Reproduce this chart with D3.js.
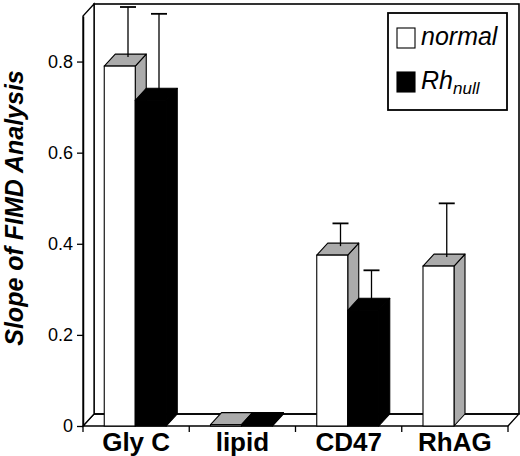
<!DOCTYPE html>
<html>
<head>
<meta charset="utf-8">
<script src="https://cdn.jsdelivr.net/npm/d3@7"></script>
<style>
  body { margin: 0; background: #fff; }
  svg { display: block; }
  text { font-family: "Liberation Sans", Arial, Helvetica, sans-serif; fill: #000; }
</style>
</head>
<body>
<div id="chart"></div>
<script>
// data
const categories = ["Gly C", "lipid", "CD47", "RhAG"];
const series = ["normal", "Rhnull"];
const normalValues = [0.79, 0.003, 0.375, 0.351];
const normalErrors = [0.11, 0, 0.05, 0.118];
const rhnullValues = [0.715, 0.003, 0.254, null];   // no Rh-null bar for RhAG
const rhnullErrors = [0.17, 0, 0.068, null];
const yTicks = [0, 0.2, 0.4, 0.6, 0.8];

let width = 520,
  height = 456;

// front plane of the pseudo-3D box
let x0 = 83, x1 = 508, yBase = 426, yTopPx = 16;
// offset to the back plane
let dx = 11, dy = -12;

let svg = d3.select('#chart')
  .append('svg')
  .attr('width', width)
  .attr('height', height)
  .attr('viewBox', [0, 0, width, height].join(' '));

let yScale = d3.scaleLinear()
  .domain([0, 0.9])
  .range([yBase, yTopPx]);

let xScale = d3.scaleBand()
  .domain(categories)
  .range([x0, x1]);

let bw = xScale.bandwidth();

let xSub = d3.scaleBand()
  .domain(series)
  .range([bw * 0.2, bw * 0.2 + 62]);

let color = d3.scaleOrdinal()
  .domain(series)
  .range(['#fff', '#000']);
let shade = d3.scaleOrdinal()
  .domain(series)
  .range(['#ababab', '#000']);

const pts = arr => arr.map(p => p.join(',')).join(' ');

// floor
svg.append('polygon')
  .attr('points', pts([[x0, yBase], [x1, yBase], [x1 + dx, yBase + dy], [x0 + dx, yBase + dy]]))
  .attr('fill', '#fff')
  .attr('stroke', '#000')
  .attr('stroke-width', 1.3);

// back wall
svg.append('rect')
  .attr('x', x0 + dx)
  .attr('y', yScale(0.9) + dy)
  .attr('width', x1 - x0)
  .attr('height', yScale(0) - yScale(0.9))
  .attr('fill', 'none')
  .attr('stroke', '#000')
  .attr('stroke-width', 1.6);

// left wall
svg.append('polygon')
  .attr('points', pts([[x0, yBase], [x0, yScale(0.9)], [x0 + dx, yScale(0.9) + dy], [x0 + dx, yBase + dy]]))
  .attr('fill', '#fff')
  .attr('stroke', '#000')
  .attr('stroke-width', 1.3);

// y axis
let yAxis = svg.append('g')
  .attr('transform', 'translate(' + x0 + ',0)')
  .call(d3.axisLeft(yScale)
    .tickValues(yTicks)
    .tickSize(6)
    .tickSizeOuter(0)
    .tickPadding(4)
    .tickFormat(d => d === 0 ? '0' : d3.format('.1f')(d)));
yAxis.select('.domain').attr('stroke-width', 1.5);
yAxis.selectAll('line').attr('stroke-width', 1.3);
yAxis.selectAll('text')
  .style('font-size', '18px')
  .style('font-family', '"Liberation Sans", Arial, sans-serif');

// x axis: ticks at band edges, labels centred
let edges = categories.map(c => xScale(c)).concat([x1]);
svg.append('g')
  .selectAll('line')
  .data(edges)
  .join('line')
  .attr('x1', d => d).attr('x2', d => d)
  .attr('y1', yBase).attr('y2', yBase + 6)
  .attr('stroke', '#000')
  .attr('stroke-width', 1.3);

svg.append('g')
  .selectAll('text')
  .data(categories)
  .join('text')
  .attr('x', d => xScale(d) + bw / 2)
  .attr('y', 451)
  .attr('text-anchor', 'middle')
  .style('font-size', '26px')
  .style('font-weight', 'bold')
  .text(d => d);

// bar rows
let rows = [];
categories.forEach(function(c, i) {
  rows.push({cat: c, key: 'normal', value: normalValues[i], err: normalErrors[i]});
  if (rhnullValues[i] !== null) {
    rows.push({cat: c, key: 'Rhnull', value: rhnullValues[i], err: rhnullErrors[i]});
  }
});

let barW = xSub.bandwidth();

let bars = svg.append('g')
  .selectAll('g')
  .data(rows)
  .join('g');

// side face
bars.append('polygon')
  .attr('points', function(d) {
    let xf = xScale(d.cat) + xSub(d.key) + barW, yf = yScale(d.value);
    return pts([[xf, yBase], [xf + dx, yBase + dy], [xf + dx, yf + dy], [xf, yf]]);
  })
  .attr('fill', d => shade(d.key))
  .attr('stroke', '#000')
  .attr('stroke-width', 1.1)
  .attr('stroke-linejoin', 'round');

// top face
bars.append('polygon')
  .attr('points', function(d) {
    let xf = xScale(d.cat) + xSub(d.key), yf = yScale(d.value);
    return pts([[xf, yf], [xf + dx, yf + dy], [xf + barW + dx, yf + dy], [xf + barW, yf]]);
  })
  .attr('fill', d => shade(d.key))
  .attr('stroke', '#000')
  .attr('stroke-width', 1.1)
  .attr('stroke-linejoin', 'round');

// front face
bars.append('rect')
  .attr('x', d => xScale(d.cat) + xSub(d.key))
  .attr('y', d => yScale(d.value))
  .attr('width', barW)
  .attr('height', d => yBase - yScale(d.value))
  .attr('fill', d => color(d.key))
  .attr('stroke', '#000')
  .attr('stroke-width', 1.1);

// error bars, rising from the top face
let errRows = bars.filter(d => d.err > 0);
errRows.append('line')
  .attr('x1', d => xScale(d.cat) + xSub(d.key) + barW / 2 + 0.75 * dx)
  .attr('x2', d => xScale(d.cat) + xSub(d.key) + barW / 2 + 0.75 * dx)
  .attr('y1', d => yScale(d.value) + 0.75 * dy)
  .attr('y2', d => yScale(d.value + d.err) + 0.75 * dy)
  .attr('stroke', '#000')
  .attr('stroke-width', 1.3);
errRows.append('line')
  .attr('x1', d => xScale(d.cat) + xSub(d.key) + barW / 2 + 0.75 * dx - 8)
  .attr('x2', d => xScale(d.cat) + xSub(d.key) + barW / 2 + 0.75 * dx + 8)
  .attr('y1', d => yScale(d.value + d.err) + 0.75 * dy)
  .attr('y2', d => yScale(d.value + d.err) + 0.75 * dy)
  .attr('stroke', '#000')
  .attr('stroke-width', 1.8);

// y label
svg.append('g')
  .attr('transform', 'translate(23,208)')
  .append('text')
  .attr('text-anchor', 'middle')
  .attr('transform', 'rotate(-90)')
  .style('font-size', '25px')
  .style('font-weight', 'bold')
  .style('font-style', 'italic')
  .text('Slope of FIMD Analysis');

// legend
let legend = svg.append('g').attr('transform', 'translate(388,13)');
legend.append('rect')
  .attr('width', 119).attr('height', 97)
  .attr('fill', '#fff')
  .attr('stroke', '#000')
  .attr('stroke-width', 1.8);

let legendItem = legend.selectAll('.lineLegend')
  .data(series)
  .join('g')
  .attr('class', 'lineLegend')
  .attr('transform', (d, i) => 'translate(9,' + (15 + i * 44) + ')');

legendItem.append('rect')
  .attr('width', 18).attr('height', 20)
  .attr('fill', d => color(d))
  .attr('stroke', '#000')
  .attr('stroke-width', 1.1);

let legendText = legendItem.append('text')
  .attr('x', 24)
  .attr('y', 17)
  .style('font-size', '25px')
  .style('font-style', 'italic');
legendText.append('tspan').text(d => d === 'Rhnull' ? 'Rh' : d);
legendText.filter(d => d === 'Rhnull')
  .append('tspan')
  .attr('dy', 5)
  .style('font-size', '17px')
  .text('null');
</script>
</body>
</html>
